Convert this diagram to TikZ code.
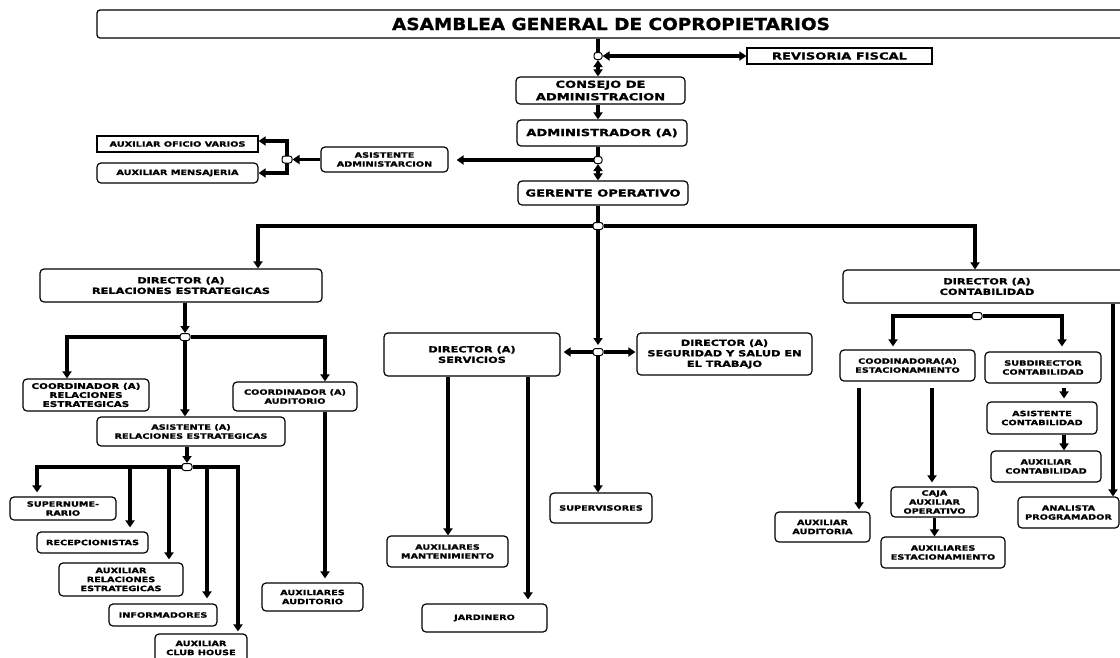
\documentclass[tikz,border=0pt]{standalone}
\usepackage{fontspec}
\newfontfamily\wfont[FakeStretch=1.33,FakeBold=1.2]{DejaVu Sans}
\newfontfamily\tfont[FakeStretch=1.12,FakeBold=1.2]{DejaVu Sans}
\usetikzlibrary{arrows.meta,backgrounds}
\tikzset{
  bx/.style={draw, line width=1.2pt, rounded corners=4pt, align=center, inner sep=0pt,
    font=\wfont\bfseries\fontsize{7.3}{9}\selectfont},
  sq/.style={bx, sharp corners},
  big/.style={font=\wfont\bfseries\fontsize{9.8}{12.5}\selectfont},
  med/.style={font=\wfont\bfseries\fontsize{8.5}{10.5}\selectfont},
  jn/.style={draw, fill=white, line width=1pt, rounded corners=2.5pt, minimum width=10pt,
    minimum height=7pt, inner sep=0pt},
  con/.style={line width=3.3pt},
  arr/.style={con, -{Triangle[length=7pt,width=9pt]}},
  darr/.style={con, {Triangle[length=7pt,width=9pt]}-{Triangle[length=7pt,width=9pt]}}
}
\begin{document}
\begin{tikzpicture}[x=1pt,y=-1pt]
\useasboundingbox (0,0) rectangle (1120,657);
% boxes
\node[bx, rounded corners=3pt, minimum width=1028pt, minimum height=28pt,
  font=\tfont\bfseries\fontsize{16.5}{18}\selectfont] (asam) at (611,24) {ASAMBLEA GENERAL DE COPROPIETARIOS};
\node[sq, big, minimum width=185pt, minimum height=16pt] (rev) at (839.5,56) {REVISORIA FISCAL};
\node[bx, big, minimum width=169pt, minimum height=27pt] (consejo) at (600.5,90.5) {CONSEJO DE\\ADMINISTRACION};
\node[bx, big, minimum width=170pt, minimum height=26pt] (admin) at (602,133) {ADMINISTRADOR (A)};
\node[bx, big, minimum width=170pt, minimum height=24pt] (gerente) at (603,193) {GERENTE OPERATIVO};
\node[bx, minimum width=127pt, minimum height=25pt] (asistadm) at (384.5,159.5) {ASISTENTE\\ADMINISTARCION};
\node[sq, minimum width=161pt, minimum height=16pt] (auxofi) at (177.5,144) {AUXILIAR OFICIO VARIOS};
\node[bx, minimum width=161pt, minimum height=20pt] (auxmen) at (177.5,173) {AUXILIAR MENSAJERIA};
\node[bx, med, minimum width=282pt, minimum height=33pt] (dirre) at (181,285.5) {DIRECTOR (A)\\RELACIONES ESTRATEGICAS};
\node[bx, font=\wfont\bfseries\fontsize{7.8}{9}\selectfont, minimum width=126pt, minimum height=32pt] (coorre) at (86,395) {COORDINADOR (A)\\RELACIONES\\ESTRATEGICAS};
\node[bx, minimum width=124pt, minimum height=29pt] (cooraud) at (295,396.5) {COORDINADOR (A)\\AUDITORIO};
\node[bx, minimum width=188pt, minimum height=29pt] (asisre) at (191,431.5) {ASISTENTE (A)\\RELACIONES ESTRATEGICAS};
\node[bx, minimum width=106pt, minimum height=23pt] (supern) at (63,508.5) {SUPERNUME-\\RARIO};
\node[bx, minimum width=111pt, minimum height=21pt] (recep) at (92.5,542.5) {RECEPCIONISTAS};
\node[bx, minimum width=124pt, minimum height=33pt] (auxre) at (121,579.5) {AUXILIAR\\RELACIONES\\ESTRATEGICAS};
\node[bx, minimum width=108pt, minimum height=22pt] (inform) at (163,615) {INFORMADORES};
\node[bx, minimum width=92pt, minimum height=28pt] (auxclub) at (201,648) {AUXILIAR\\CLUB HOUSE};
\node[bx, minimum width=101pt, minimum height=28pt] (auxaud) at (312.5,597) {AUXILIARES\\AUDITORIO};
\node[bx, med, minimum width=176pt, minimum height=43pt] (dirserv) at (472,354.5) {DIRECTOR (A)\\SERVICIOS};
\node[bx, med, minimum width=175pt, minimum height=42pt] (dirseg) at (724.5,354) {DIRECTOR (A)\\SEGURIDAD Y SALUD EN\\EL TRABAJO};
\node[bx, minimum width=102pt, minimum height=30pt] (superv) at (601,508) {SUPERVISORES};
\node[bx, minimum width=121pt, minimum height=31pt] (auxmant) at (447.5,551.5) {AUXILIARES\\MANTENIMIENTO};
\node[bx, minimum width=125pt, minimum height=28pt] (jard) at (484.5,618) {JARDINERO};
\node[bx, med, minimum width=288pt, minimum height=33pt] (dircont) at (987,286.5) {DIRECTOR (A)\\CONTABILIDAD};
\node[bx, minimum width=135pt, minimum height=31pt] (cooest) at (907.5,365.5) {COODINADORA(A)\\ESTACIONAMIENTO};
\node[bx, minimum width=116pt, minimum height=31pt] (subdir) at (1043,367.5) {SUBDIRECTOR\\CONTABILIDAD};
\node[bx, minimum width=110pt, minimum height=32pt] (asiscont) at (1042,418) {ASISTENTE\\CONTABILIDAD};
\node[bx, minimum width=110pt, minimum height=31pt] (auxcont) at (1046,466.5) {AUXILIAR\\CONTABILIDAD};
\node[bx, minimum width=101pt, minimum height=31pt] (analista) at (1068.5,512.5) {ANALISTA\\PROGRAMADOR};
\node[bx, minimum width=95pt, minimum height=30pt] (auxaudit) at (822.5,527) {AUXILIAR\\AUDITORIA};
\node[bx, minimum width=87pt, minimum height=30pt] (caja) at (934.5,502) {CAJA\\AUXILIAR\\OPERATIVO};
\node[bx, minimum width=124pt, minimum height=31pt] (auxest) at (943,552.5) {AUXILIARES\\ESTACIONAMIENTO};
% junctions
\node[jn, minimum width=8pt] (c1) at (598,56) {};
\node[jn, minimum width=8pt] (c2) at (598,160) {};
\node[jn] (c3) at (598,226) {};
\node[jn] (c4) at (185,337) {};
\node[jn] (c5) at (187,467) {};
\node[jn] (c6) at (598,352) {};
\node[jn] (c7) at (977,316) {};
\node[jn] (c8) at (287,159.5) {};
% connectors
\begin{pgfonlayer}{background}
\fill[white] (0,0) rectangle (1120,657);
\draw[con] (c1 |- asam.south) -- (c1);
\draw[darr] (c1.east) -- (rev.west);
\draw[darr] (c1.south) -- (c1 |- consejo.north);
\draw[arr] (c1 |- consejo.south) -- (c1 |- admin.north);
\draw[con] (c1 |- admin.south) -- (c2);
\draw[arr, shorten >=8pt] (c2.west) -- (c2.west -| asistadm.east);
\draw[darr] (c2.south) -- (c2 |- gerente.north);
\draw[con] (c2 |- gerente.south) -- (c3);
\draw[arr] (c3.west) -| ([xshift=77pt]dirre.north);
\draw[arr] (c3.east) -| ([xshift=-12pt]dircont.north);
\draw[arr, shorten >=3pt] (c3.south) -- (c6.north);
\draw[arr] (asistadm.west) -- (c8.east);
\draw[arr] (c8.center) |- ([yshift=3pt]auxofi.east);
\draw[arr] (c8.center) |- (auxmen.east);
\draw[arr] (dirre.south -| c4) -- (c4.north);
\draw[arr] (c4.west) -| ([xshift=-19pt]coorre.north);
\draw[arr] (c4.south) -- (c4 |- asisre.north);
\draw[arr] (c4.east) -| ([xshift=30pt]cooraud.north);
\draw[arr] (asisre.south -| c5) -- (c5.north);
\draw[arr, shorten >=4pt] (c5.west) -| ([xshift=-26pt]supern.north);
\draw[arr, shorten >=4pt] (c5.west) -| ([xshift=37.5pt]recep.north);
\draw[arr, shorten >=3pt] (c5.west) -| ([xshift=48pt]auxre.north);
\draw[arr, shorten >=5pt] (c5.east) -| ([xshift=44pt]inform.north);
\draw[arr, shorten >=2pt] (c5.east) -| ([xshift=37pt]auxclub.north);
\draw[arr, shorten >=4pt] ([xshift=30pt]cooraud.south) -- ([xshift=30pt]cooraud.south |- auxaud.north);
\draw[arr, shorten >=3pt] (c6.west) -- (c6.west -| dirserv.east);
\draw[arr, shorten >=1pt] (c6.east) -- (c6.east -| dirseg.west);
\draw[arr] (c6.south) -- (c6 |- superv.north);
\draw[arr] ([xshift=-24pt]dirserv.south) -- ([xshift=-24pt]dirserv.south |- auxmant.north);
\draw[arr, shorten >=4pt] ([xshift=56pt]dirserv.south) -- ([xshift=56pt]dirserv.south |- jard.north);
\draw[arr, shorten >=3pt] (c7.west) -| ([xshift=-14.5pt]cooest.north);
\draw[arr, shorten >=5pt] (c7.east) -| ([xshift=19pt]subdir.north);
\draw[arr, shorten <=4pt, shorten >=3pt] ([xshift=21pt]subdir.south) -- ([xshift=21pt]subdir.south |- asiscont.north);
\draw[arr] ([xshift=22pt]asiscont.south) -- ([xshift=22pt]asiscont.south |- auxcont.north);
\draw[arr] ([xshift=126pt]dircont.south) -- ([xshift=126pt]dircont.south |- analista.north);
\draw[arr, shorten <=6pt, shorten >=2pt] ([xshift=-48.5pt]cooest.south) -- ([xshift=-48.5pt]cooest.south |- auxaudit.north);
\draw[arr, shorten <=6pt, shorten >=4pt] ([xshift=24.5pt]cooest.south) -- ([xshift=24.5pt]cooest.south |- caja.north);
\draw[arr] (caja.south) -- (caja.south |- auxest.north);
\end{pgfonlayer}
\end{tikzpicture}
\end{document}
